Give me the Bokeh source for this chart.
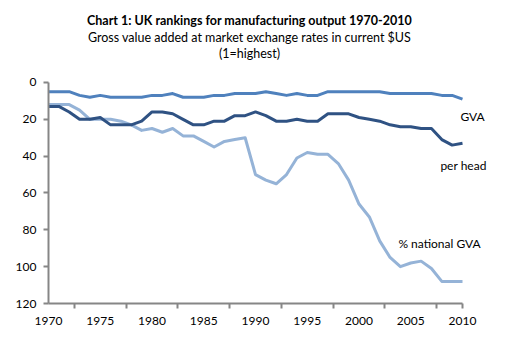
from bokeh.plotting import figure
from bokeh.models import Range1d, FixedTicker, Label, ColumnDataSource
from bokeh.embed import file_html
from bokeh.resources import INLINE

years = list(range(1970, 2011))
gva = [5, 5, 5, 7, 8, 7, 8, 8, 8, 8, 7, 7, 6, 8, 8, 8, 7, 7, 6, 6,
       6, 5, 6, 7, 6, 7, 7, 5, 5, 5, 5, 5, 5, 6, 6, 6, 6, 6, 7, 7, 9]
per_head = [13, 13, 16, 20, 20, 19, 23, 23, 23, 21, 16, 16, 17, 20, 23, 23, 21, 21, 18, 18,
            16, 18, 21, 21, 20, 21, 21, 17, 17, 17, 19, 20, 21, 23, 24, 24, 25, 25, 31, 34, 33]
pct_national = [12, 12, 12, 15, 20, 20, 20, 21, 23, 26, 25, 27, 25, 29, 29, 32, 35, 32, 31, 30,
                50, 53, 55, 50, 41, 38, 39, 39, 44, 53, 66, 73, 86, 95, 100, 98, 97, 101, 108, 108, 108]
x_tick_labels = [1970, 1975, 1980, 1985, 1990, 1995, 2000, 2005, 2010]
y_ticks = [0, 20, 40, 60, 80, 100, 120]

title = "Chart 1: UK rankings for manufacturing output 1970-2010"
subtitle1 = "Gross value added at market exchange rates in current $US"
subtitle2 = "(1=highest)"

FONT = "Lato"
AXIS_COL = "#868686"
TXT_COL = "#000000"

PX_YEAR = 10.35   # pixels per year in the layout
PX_RANK = 1.842   # pixels per rank unit
X0, Y0 = 48, 82   # page position of (1970, 0)
W, H = 498, 342
Y_BOTTOM = 303

src = ColumnDataSource(dict(year=years, gva=gva, per_head=per_head, pct=pct_national))

x_end = 1970 + (W - X0) / PX_YEAR
y_top = -Y0 / PX_RANK
p = figure(width=W, height=H, output_backend="svg", toolbar_location=None,
           x_range=Range1d(1970, x_end), y_range=Range1d(120, y_top),
           min_border_left=X0, min_border_right=0, min_border_top=0,
           min_border_bottom=H - Y_BOTTOM)
p.outline_line_color = None
p.xgrid.visible = False
p.ygrid.visible = False
p.background_fill_color = "white"

p.line("year", "pct", source=src, line_color="#95B3D7", line_width=3, line_join="round")
p.line("year", "per_head", source=src, line_color="#2F5283", line_width=3, line_join="round")
p.line("year", "gva", source=src, line_color="#4F81BD", line_width=3, line_join="round")

minor = [1972.5 + 5 * i for i in range(8)] + [2010]
xax = p.xaxis[0]
xax.bounds = (1970, 2010)
xax.ticker = FixedTicker(ticks=x_tick_labels, minor_ticks=minor)
xax.major_tick_out = 0
xax.major_tick_in = 0
xax.minor_tick_out = 5
xax.minor_tick_in = 0
xax.minor_tick_line_color = AXIS_COL
xax.minor_tick_line_width = 2
xax.axis_line_color = AXIS_COL
xax.axis_line_width = 2
xax.major_label_text_font = FONT
xax.major_label_text_font_size = "12px"
xax.major_label_text_color = TXT_COL
xax.major_label_standoff = 8

yax = p.yaxis[0]
yax.bounds = (0, 120)
yax.ticker = FixedTicker(ticks=y_ticks)
yax.major_tick_out = 5
yax.major_tick_in = 0
yax.minor_tick_out = 0
yax.minor_tick_in = 0
yax.major_tick_line_color = AXIS_COL
yax.major_tick_line_width = 2
yax.axis_line_color = AXIS_COL
yax.axis_line_width = 2
yax.major_label_text_font = FONT
yax.major_label_text_font_size = "12px"
yax.major_label_text_color = TXT_COL
yax.major_label_standoff = 7

def px_to_year(px):
    return 1970 + (px - X0) / PX_YEAR

def px_to_rank(py):
    return (py - Y0) / PX_RANK

def lab(text, px, py, size="12px", bold=False, align="center"):
    p.add_layout(Label(x=px_to_year(px), y=px_to_rank(py), text=text, text_font=FONT,
                       text_font_size=size, text_font_style="bold" if bold else "normal",
                       text_color=TXT_COL, text_align=align, text_baseline="middle"))

lab(title, 249, 20, size="12.5px", bold=True)
lab(subtitle1, 249, 37, size="12.5px")
lab(subtitle2, 249, 53, size="12.5px")

lab("GVA", 472, 116)
lab("per head", 463, 165)
lab("% national GVA", 439, 243)

open("out.html", "w").write(file_html(p, INLINE))
